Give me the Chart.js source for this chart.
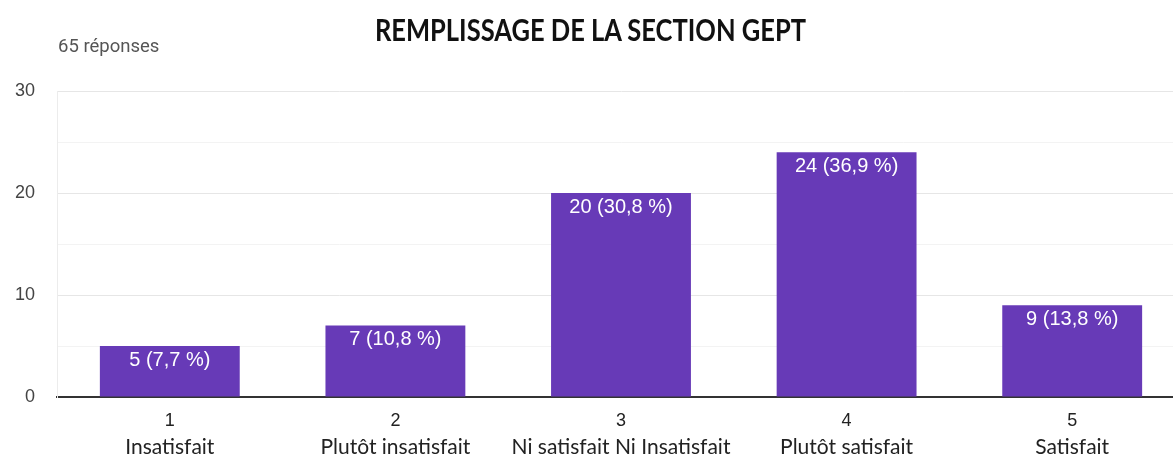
<!DOCTYPE html>
<html lang="fr">
<head>
<meta charset="utf-8">
<script src="https://cdn.jsdelivr.net/npm/chart.js@4"></script>
<style>
    html, body { margin: 0; padding: 0; background: #fff; overflow: hidden; }
    #wrap { position: relative; width: 1190px; height: 458px; }
    #title {
        position: absolute; left: 4px; width: 1173px; top: 12px;
        text-align: center; font: bold 25.5px Lato, sans-serif; color: #111;
        transform: scaleY(1.18); transform-origin: center top;
    }
    #count {
        position: absolute; left: 58px; top: 35px;
        font: 18.5px Roboto, sans-serif; color: #555;
    }
</style>
</head>
<body>
<div id="wrap">
    <canvas id="chart" width="1190" height="458"></canvas>
    <div id="title">REMPLISSAGE DE LA SECTION GEPT</div>
    <div id="count">65 réponses</div>
</div>
<script>
const categories = ['1', '2', '3', '4', '5'];
const labels = ['Insatisfait', 'Plutôt insatisfait', 'Ni satisfait Ni Insatisfait', 'Plutôt satisfait', 'Satisfait'];
const counts = [5, 7, 20, 24, 9];
const totalResponses = 65;
const yTicks = [0, 10, 20, 30];

function percentText(v) {
    return (v / totalResponses * 100).toFixed(1).replace('.', ',') + ' %';
}

// value labels inside the top of each bar
const barLabels = {
    id: 'barLabels',
    afterDatasetsDraw(chart) {
        const ctx = chart.ctx;
        const meta = chart.getDatasetMeta(0);
        ctx.save();
        ctx.fillStyle = '#fff';
        ctx.font = '20px "Liberation Sans", Arial, sans-serif';
        ctx.textAlign = 'center';
        ctx.textBaseline = 'middle';
        meta.data.forEach((bar, i) => {
            ctx.fillText(`${counts[i]} (${percentText(counts[i])})`, bar.x, bar.y + 14);
        });
        ctx.restore();
    }
};

// two-line category labels under the axis
const xLabels = {
    id: 'xLabels',
    afterDraw(chart) {
        const ctx = chart.ctx;
        const x = chart.scales.x;
        const base = chart.chartArea.bottom;
        ctx.save();
        ctx.fillStyle = '#222';
        ctx.textAlign = 'center';
        ctx.textBaseline = 'middle';
        categories.forEach((c, i) => {
            const px = x.getPixelForValue(i);
            ctx.font = '18px "Liberation Sans", Arial, sans-serif';
            ctx.fillText(c, px, base + 24);
            ctx.font = '21px Lato, sans-serif';
            ctx.fillText(labels[i], px, base + 50);
        });
        ctx.restore();
    }
};

new Chart(document.getElementById('chart'), {
    type: 'bar',
    data: {
        labels: categories,
        datasets: [{
            data: counts,
            backgroundColor: '#673ab7',
            barPercentage: 0.62,
            categoryPercentage: 1
        }]
    },
    options: {
        responsive: false,
        animation: false,
        layout: { padding: { top: 91, right: 5, left: 0, bottom: 0 } },
        plugins: {
            legend: { display: false },
            tooltip: { enabled: false }
        },
        scales: {
            x: {
                grid: { display: false },
                border: { color: '#333', width: 2 },
                ticks: { display: false },
                afterFit: scale => { scale.height = 61; }
            },
            y: {
                min: 0,
                max: 30,
                ticks: {
                    stepSize: 5,
                    padding: 22,
                    color: '#444',
                    font: { family: '"Liberation Sans", Arial', size: 18 },
                    callback: v => yTicks.includes(v) ? v : ''
                },
                grid: {
                    drawTicks: false,
                    color: c => c.tick.value % 10 === 0 ? '#e6e6e6' : '#f3f3f3'
                },
                border: { color: '#ececec' },
                afterFit: scale => { scale.width = 57; }
            }
        }
    },
    plugins: [barLabels, xLabels]
});
</script>
</body>
</html>
